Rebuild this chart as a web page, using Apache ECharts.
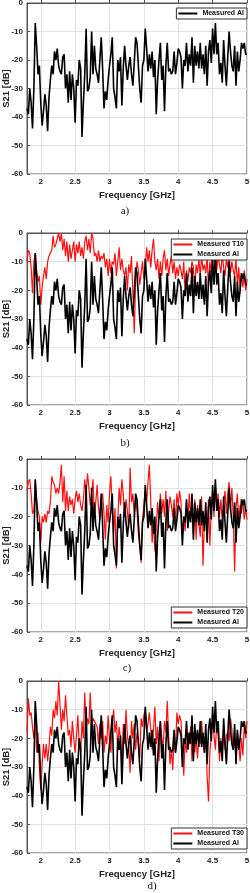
<!DOCTYPE html>
<html>
<head>
<meta charset="utf-8">
<script src="https://cdn.jsdelivr.net/npm/echarts@6/dist/echarts.min.js"></script>
<style>html,body{margin:0;padding:0;background:#fff;}#c{width:250px;height:893px;}</style>
</head>
<body>
<div id="c"></div>
<script>
// Sample grid: 1.80 .. 5.00 GHz, 0.02 GHz steps (161 samples)
const freqStart = 1.8, freqStep = 0.02, nSamples = 161;
const xTicks = [2, 2.5, 3, 3.5, 4, 4.5, 5];
const yTicks = [-60, -50, -40, -30, -20, -10, 0];
const panelLabels = ['a)', 'b)', 'c)', 'd)'];
const yTitle = 'S21 [dB]';
const xTitle = 'Frequency [GHz]';

const measuredAl = [
 -37,-39,-30,-35,-44,-30,-7,-15,-25,-22,
 -35,-43,-38,-32,-36,-45,-33,-27,-22,-25,
 -17,-20,-16,-22,-24,-25,-19,-18,-30,-25,
 -35,-24,-34,-25,-30,-42,-27,-29,-20,-23,
 -47,-35,-25,-9,-31,-30,-26,-10,-25,-15,
 -23,-25,-28,-20,-12,-23,-37,-31,-34,-27,
 -22,-18,-12,-30,-33,-37,-20,-24,-19,-36,
 -23,-15,-22,-27,-22,-19,-25,-29,-21,-12,
 -14,-22,-30,-35,-22,-20,-9,-16,-24,-18,
 -23,-17,-26,-20,-39,-27,-20,-14,-27,-22,
 -38,-22,-14,-24,-23,-25,-24,-17,-25,-21,
 -16,-17,-19,-30,-20,-22,-14,-24,-18,-22,
 -12,-28,-15,-22,-17,-23,-14,-23,-18,-25,
 -15,-29,-17,-13,-21,-9,-18,-7,-18,-14,
 -25,-21,-28,-13,-22,-29,-19,-10,-17,-22,
 -24,-15,-29,-17,-24,-20,-14,-16,-14,-18,
 -18
];
const measuredT10 = [
 -10,-6,-7,-12,-21,-10,-7,-13,-17,-15,
 -25,-19,-15,-12,-16,-10,-8,-7,-6,-1,
 -5,-4,-2,0,-3,0,-6,-2,-8,-3,
 -10,-4,-9,-6,-3,-10,-4,-7,-3,-8,
 -5,-9,-3,-1,-6,-2,-7,0,-2,-8,
 -7,-10,-6,-10,-8,-9,-7,-12,-9,-15,
 -9,-14,-10,-11,-7,-15,-10,-5,-13,-9,
 -13,-15,-12,-20,-11,-14,-8,-21,-35,-17,
 -10,-13,-18,-14,-10,-16,-13,-5,-10,-6,
 -12,-6,-2,-10,-13,-9,-16,-10,-15,-9,
 -6,-13,-9,-15,-11,-8,-14,-10,-16,-12,
 -15,-11,-13,-16,-10,-22,-13,-17,-12,-14,
 -10,-12,-20,-11,-14,-9,-15,-8,-13,-11,
 -14,-8,-19,-10,-14,-3,-10,-3,-13,-8,
 -11,-14,-7,-12,-15,-9,-12,-8,-14,-10,
 -13,-15,-9,-18,-12,-20,-14,-19,-13,-20,
 -16
];
const measuredT20 = [
 -11,-8,-7,-12,-19,-18,-8,-14,-18,-20,
 -29,-20,-22,-19,-22,-18,-19,-15,-6,-8,
 -9,-12,-10,-12,-8,-2,-15,-6,-18,-11,
 -18,-13,-16,-14,-19,-14,-11,-15,-12,-16,
 -18,-14,-7,-12,-5,-10,-16,-12,-7,-20,
 -15,-9,-17,-21,-14,-12,-19,-28,-16,-22,
 -12,-6,-18,-26,-17,-38,-22,-10,-16,-7,
 -12,-20,-14,-18,-24,-3,-15,-12,-20,-13,
 -18,-26,-30,-36,-21,-16,-11,-15,-8,-2,
 -15,-29,-22,-32,-24,-15,-21,-12,-19,-14,
 -20,-11,-25,-18,-13,-16,-20,-14,-23,-12,
 -16,-11,-15,-27,-20,-25,-15,-22,-12,-20,
 -17,-26,-14,-28,-16,-22,-27,-13,-37,-22,
 -19,-25,-14,-30,-18,-12,-20,-9,-16,-12,
 -20,-14,-22,-15,-11,-19,-12,-8,-18,-10,
 -20,-39,-17,-12,-22,-16,-19,-14,-21,-17,
 -21
];
const measuredT30 = [
 -18,-6,-12,-11,-16,-20,-13,-25,-18,-30,
 -38,-29,-22,-27,-22,-28,-23,-16,-19,-10,
 -13,-7,-12,0,-8,-17,-10,-14,-5,-12,
 -19,-17,-23,-14,-20,-25,-19,-12,-23,-25,
 -14,-20,-4,-17,-13,-15,-4,-17,-13,-14,
 -14,-16,-22,-15,-20,-14,-25,-19,-22,-12,
 -20,-25,-15,-10,-18,-14,-23,-16,-20,-30,
 -15,-22,-10,-19,-23,-32,-14,-20,-15,-24,
 -18,-21,-27,-13,-16,-12,-10,-18,-15,-11,
 -17,-24,-17,-9,-22,-16,-28,-14,-20,-23,
 -14,-18,-7,-19,-29,-24,-31,-20,-25,-11,
 -15,-12,-14,-24,-33,-20,-25,-18,-22,-16,
 -28,-18,-25,-20,-27,-19,-22,-14,-21,-25,
 -19,-33,-42,-25,-19,-14,-19,-24,-14,-19,
 -28,-20,-26,-16,-24,-19,-18,-21,-13,-17,
 -24,-20,-27,-18,-22,-28,-20,-26,-15,-20,
 -14
];

const freq = [];
for (let i = 0; i < nSamples; i++) freq.push(+(freqStart + i * freqStep).toFixed(2));
const pairs = v => v.map((y, i) => [freq[i], y]);

const FONT = '"Liberation Sans", Arial, sans-serif';
const grids = [
  {left: 27, right: 3, top: 3, height: 171},
  {left: 27, right: 3, top: 233, height: 172},
  {left: 27, right: 3, top: 459, height: 173},
  {left: 27, right: 3, top: 681, height: 172}
].map(g => Object.assign(g, {show: true, borderColor: '#555', borderWidth: 1, backgroundColor: '#fff',
  containLabel: false, outerBoundsMode: 'none'}));

const xAxes = grids.map((g, i) => ({
  type: 'value', gridIndex: i, min: 1.8, max: 5,
  name: xTitle, nameLocation: 'middle', nameGap: 16,
  nameTextStyle: {fontFamily: FONT, fontWeight: 'bold', fontSize: 9.5, color: '#222'},
  axisLine: {show: true, lineStyle: {color: '#555', width: 1}},
  axisTick: {show: true, inside: true, length: 3, customValues: xTicks, lineStyle: {color: '#555'}},
  axisLabel: {customValues: xTicks, fontFamily: FONT, fontWeight: 'bold', fontSize: 8, color: '#222', margin: 4},
  splitLine: {show: true, lineStyle: {color: '#e2e2e2', width: 1}}
}));
const yAxes = grids.map((g, i) => ({
  type: 'value', gridIndex: i, min: -60, max: 0, interval: 10,
  axisLine: {show: true, lineStyle: {color: '#555', width: 1}},
  axisTick: {show: true, inside: true, length: 3, lineStyle: {color: '#555'}},
  axisLabel: {fontFamily: FONT, fontWeight: 'bold', fontSize: 8, color: '#222', margin: 4},
  splitLine: {show: true, lineStyle: {color: '#e2e2e2', width: 1}}
}));

function lineSeries(name, data, idx, color, width) {
  return {type: 'line', name, xAxisIndex: idx, yAxisIndex: idx, data: pairs(data),
    symbol: 'none', showSymbol: false, color, itemStyle: {color}, lineStyle: {color, width}, clip: true,
    z: color === '#000' ? 3 : 2};
}
const RED = '#ff1010', BLACK = '#000';
const series = [
  lineSeries('Measured Al', measuredAl, 0, BLACK, 1.6),
  lineSeries('Measured T10', measuredT10, 1, RED, 1.2),
  lineSeries('Measured Al', measuredAl, 1, BLACK, 1.6),
  lineSeries('Measured T20', measuredT20, 2, RED, 1.2),
  lineSeries('Measured Al', measuredAl, 2, BLACK, 1.6),
  lineSeries('Measured T30', measuredT30, 3, RED, 1.2),
  lineSeries('Measured Al', measuredAl, 3, BLACK, 1.6)
];

function legend(names, top) {
  return {data: names.map(n => ({name: n, icon: 'rect'})), orient: 'vertical', right: 3, top,
    itemWidth: 19, itemHeight: 2, itemGap: 1,
    padding: [1, 3, 1, 2], backgroundColor: '#fff', borderColor: '#333', borderWidth: 1,
    textStyle: {fontFamily: FONT, fontWeight: 'bold', fontSize: 7, color: '#111', lineHeight: 9}};
}
const legends = [
  legend(['Measured Al'], 8),
  legend(['Measured T10', 'Measured Al'], 239),
  legend(['Measured T20', 'Measured Al'], 607),
  legend(['Measured T30', 'Measured Al'], 828)
];

const labelPos = [[125, 211], [125, 443], [127, 668], [152, 886]];
const graphic = panelLabels.map((t, i) => ({
  type: 'text', x: labelPos[i][0], y: labelPos[i][1],
  style: {text: t, fontFamily: '"Liberation Serif", "Times New Roman", serif', fontSize: 11, fill: '#111',
    textAlign: 'center', textVerticalAlign: 'middle'}
})).concat(grids.map(g => ({
  type: 'text', x: 6, y: g.top + g.height / 2, rotation: Math.PI / 2,
  style: {text: yTitle, fontFamily: FONT, fontWeight: 'bold', fontSize: 9.5, fill: '#222',
    textAlign: 'center', textVerticalAlign: 'middle'}
})));

const chart = echarts.init(document.getElementById('c'), null, {renderer: 'canvas'});
chart.setOption({
  animation: false, backgroundColor: '#fff',
  grid: grids, xAxis: xAxes, yAxis: yAxes, series, legend: legends, graphic
});
</script>
</body>
</html>
